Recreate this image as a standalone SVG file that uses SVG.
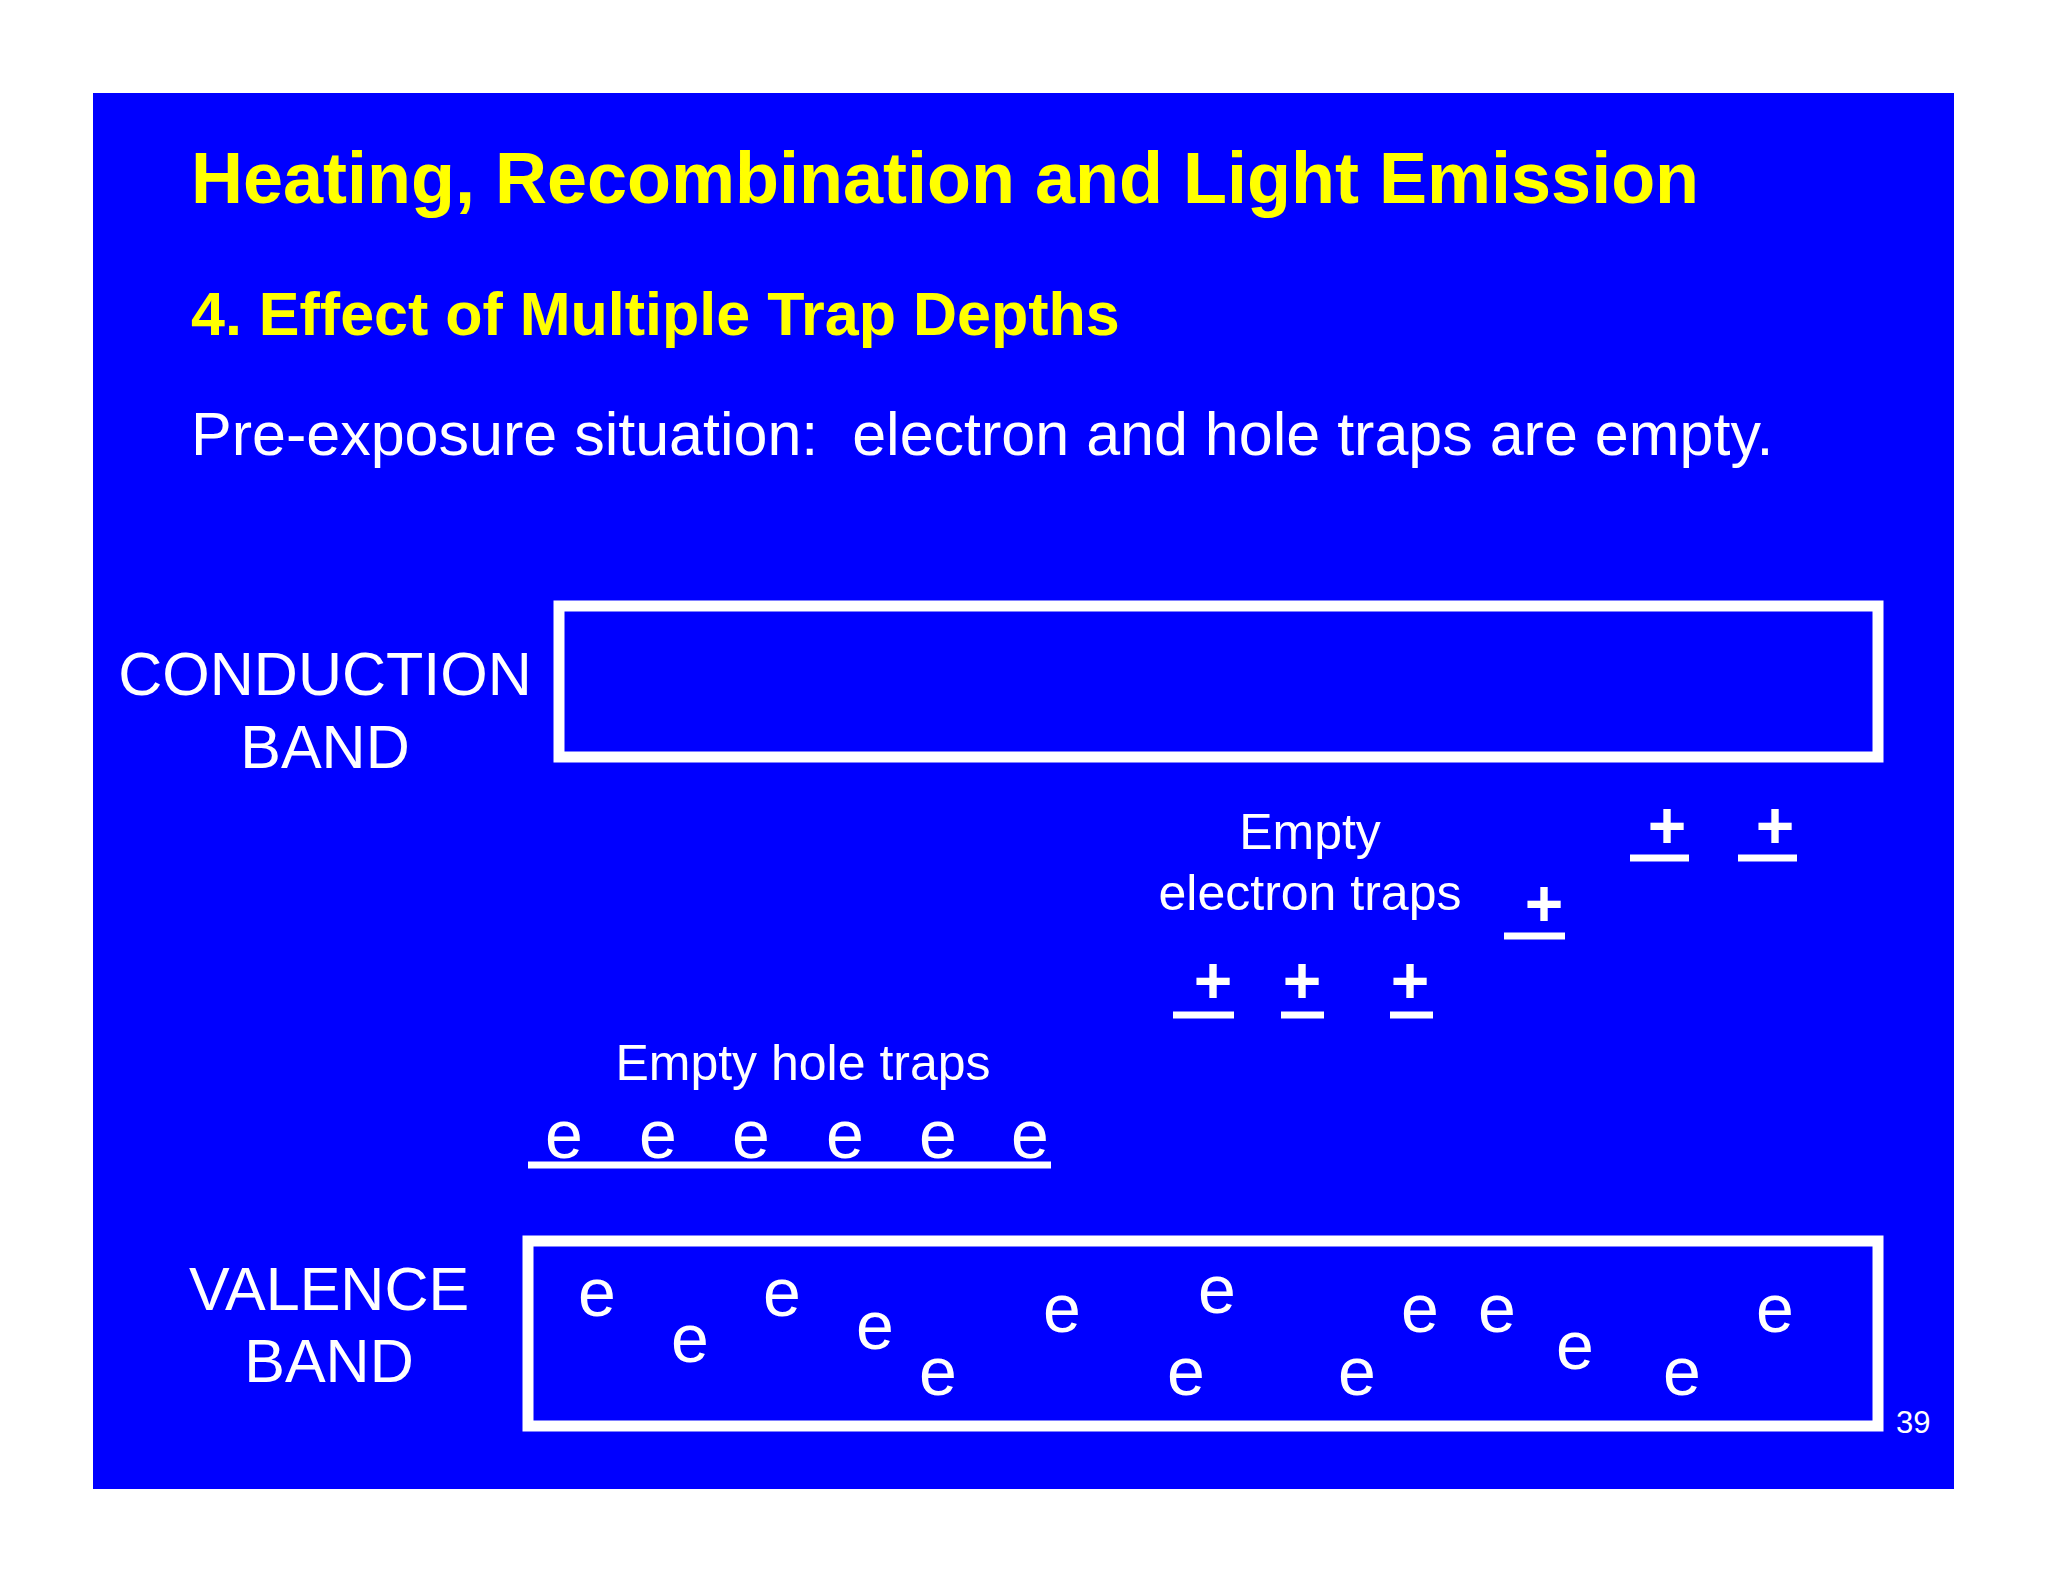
<svg xmlns="http://www.w3.org/2000/svg" width="2048" height="1582" viewBox="0 0 2048 1582">
<style>
text{font-family:"Liberation Sans",Arial,sans-serif;fill:#fff}
.y{fill:#ffff00;font-weight:bold}
.c{text-anchor:middle}
.e{font-size:68px;text-anchor:middle}
.p{font-size:66px;text-anchor:middle;font-weight:bold}
.band{fill:none;stroke:#fff;stroke-width:11}
.ln{stroke:#fff;stroke-width:7}
</style>
<rect width="2048" height="1582" fill="#fff"/>
<rect x="93" y="93" width="1861" height="1396" fill="#0000ff"/>
<text class="y" x="191" y="203" font-size="72">Heating, Recombination and Light Emission</text>
<text class="y" x="191" y="335" font-size="61">4. Effect of Multiple Trap Depths</text>
<text x="191" y="455" font-size="61">Pre-exposure situation:&#160; electron and hole traps are empty.</text>
<g id="conduction">
<rect class="band" x="559" y="606" width="1319" height="151"/>
<text class="c" x="325" y="695" font-size="61">CONDUCTION</text>
<text class="c" x="325" y="768" font-size="61">BAND</text>
</g>
<g id="valence">
<rect class="band" x="528" y="1241" width="1350" height="185"/>
<text class="c" x="329" y="1310" font-size="61">VALENCE</text>
<text class="c" x="329" y="1382" font-size="61">BAND</text>
<text class="e" x="597" y="1316">e</text><text class="e" x="690" y="1362">e</text>
<text class="e" x="782" y="1316">e</text><text class="e" x="875" y="1349">e</text>
<text class="e" x="938" y="1395">e</text><text class="e" x="1062" y="1332">e</text>
<text class="e" x="1217" y="1313">e</text><text class="e" x="1186" y="1395">e</text>
<text class="e" x="1357" y="1395">e</text><text class="e" x="1420" y="1332">e</text>
<text class="e" x="1497" y="1332">e</text><text class="e" x="1575" y="1369">e</text>
<text class="e" x="1682" y="1395">e</text><text class="e" x="1775" y="1332">e</text>
</g>
<g id="electron-traps">
<text class="c" x="1310" y="849" font-size="50">Empty</text>
<text class="c" x="1310" y="910" font-size="50">electron traps</text>
<line class="ln" x1="1630" y1="858" x2="1689" y2="858"/><text class="p" x="1667" y="848">+</text>
<line class="ln" x1="1738" y1="858" x2="1797" y2="858"/><text class="p" x="1775" y="848">+</text>
<line class="ln" x1="1504" y1="936" x2="1565" y2="936"/><text class="p" x="1544" y="926">+</text>
<line class="ln" x1="1173" y1="1015" x2="1234" y2="1015"/><text class="p" x="1213" y="1003">+</text>
<line class="ln" x1="1281" y1="1015" x2="1324" y2="1015"/><text class="p" x="1302" y="1003">+</text>
<line class="ln" x1="1390" y1="1015" x2="1433" y2="1015"/><text class="p" x="1410" y="1003">+</text>
</g>
<g id="hole-traps">
<text class="c" x="803" y="1080" font-size="50">Empty hole traps</text>
<line class="ln" x1="528" y1="1165" x2="1051" y2="1165"/>
<text class="e" x="564" y="1158">e</text><text class="e" x="658" y="1158">e</text>
<text class="e" x="751" y="1158">e</text><text class="e" x="845" y="1158">e</text>
<text class="e" x="938" y="1158">e</text><text class="e" x="1030" y="1158">e</text>
</g>
<g id="connectors"/>
<text x="1896" y="1433" font-size="31">39</text>
</svg>
